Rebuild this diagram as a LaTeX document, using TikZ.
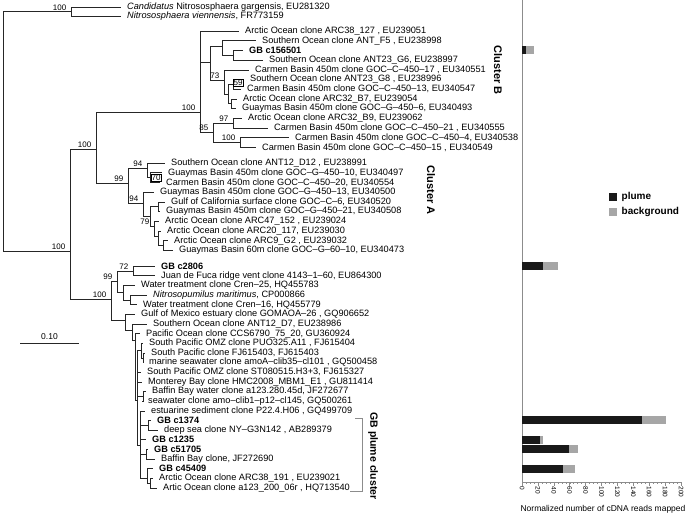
\documentclass[tikz,border=0pt]{standalone}
\usepackage{fontspec}
\setmainfont{Liberation Sans}
\usetikzlibrary{positioning,calc}

\definecolor{plumecol}{gray}{0.1}
\definecolor{bgcol}{gray}{0.65}
\definecolor{axiscol}{gray}{0.55}

\tikzset{
  leaf/.style={anchor=west, inner xsep=6pt, inner ysep=1pt, font=\fontsize{9.2}{10}\selectfont},
  gbleaf/.style={leaf, font=\fontsize{9.2}{10}\selectfont\bfseries},
  br/.style={line width=0.6pt, draw=black!85},
  boot/.style={anchor=south east, inner sep=0.5pt, xshift=-4pt, yshift=0.5pt, font=\fontsize{8}{9}\selectfont},
  bootbox/.style={draw, line width=0.4pt, inner sep=0.6pt, font=\fontsize{8}{9}\selectfont},
  clabel/.style={rotate=-90, font=\fontsize{11}{12}\selectfont\bfseries},
  ticklbl/.style={rotate=-90, anchor=west, inner sep=0.5pt, font=\fontsize{6.5}{7}\selectfont},
}

\begin{document}
\begin{tikzpicture}[x=1pt, y=-1pt]
  \useasboundingbox (0,0) rectangle (685,514);

  % outgroup and root
  \coordinate (root) at (3,130);
  \coordinate (og) at (71,11.5);
  \node[leaf] (cng) at (121,7) {\textit{Candidatus} Nitrososphaera gargensis, EU281320};
  \node[leaf] (nvi) at (121,16) {\textit{Nitrososphaera viennensis}, FR773159};
  \draw[br] (root) |- (og);
  \draw[br] (og) |- (cng.west);
  \draw[br] (og) |- (nvi.west);
  \node[boot] (s1) at (og) {100};

  \coordinate (n70) at (70,251);
  \draw[br] (root) |- (n70);
  \node[boot] (s2) at (n70) {100};
  \coordinate (nAB) at (96,149);
  \draw[br] (n70) |- (nAB);
  \node[boot] (s3) at (nAB) {100};

  % cluster B
  \node[leaf] (b1) at (239,31) {Arctic Ocean clone ARC38\_127 , EU239051};
  \node[leaf] (b2) at (256,40.7) {Southern Ocean clone ANT\_F5 , EU238998};
  \node[gbleaf] (b3) at (243,50.4) {GB c156501};
  \node[leaf] (b4) at (263,60.1) {Southern Ocean clone ANT23\_G6, EU238997};
  \node[leaf] (b5) at (249,69.8) {Carmen Basin 450m clone GOC--C--450--17 , EU340551};
  \node[leaf] (b6) at (244,79.5) {Southern Ocean clone ANT23\_G8 , EU238996};
  \node[leaf] (b7) at (241,89.2) {Carmen Basin 450m clone GOC--C--450--13, EU340547};
  \node[leaf] (b8) at (237,98.9) {Arctic Ocean clone ARC32\_B7, EU239054};
  \node[leaf] (b9) at (236,108.6) {Guaymas Basin 450m clone GOC--G--450--6, EU340493};
  \node[leaf] (b10) at (242,118.3) {Arctic Ocean clone ARC32\_B9, EU239062};
  \node[leaf] (b11) at (268,128) {Carmen Basin 450m clone GOC--C--450--21 , EU340555};
  \node[leaf] (b12) at (289,137.7) {Carmen Basin 450m clone GOC--C--450--4, EU340538};
  \node[leaf] (b13) at (256,147.4) {Carmen Basin 450m clone GOC--C--450--15 , EU340549};

  \coordinate (nB) at (200,112);
  \coordinate (nBa) at (210,62);
  \coordinate (nBf) at (222,46);
  \coordinate (nBg) at (233,55);
  \coordinate (nB73) at (224,80);
  \coordinate (nBi) at (228,94);
  \coordinate (nB59) at (233,84);
  \coordinate (nB7) at (231,103);
  \coordinate (nB85) at (213,132);
  \coordinate (nB97) at (233,123);
  \coordinate (nBc) at (240,142);
  \draw[br] (nAB) |- (nB);
  \draw[br] (nB) |- (b1.west);
  \draw[br] (nB) |- (nBa);
  \draw[br] (nB) |- (nB85);
  \draw[br] (nBa) |- (nBf);
  \draw[br] (nBa) |- (nB73);
  \draw[br] (nBf) |- (b2.west);
  \draw[br] (nBf) |- (nBg);
  \draw[br] (nBg) |- (b3.west);
  \draw[br] (nBg) |- (b4.west);
  \draw[br] (nB73) |- (b5.west);
  \draw[br] (nB73) |- (nBi);
  \draw[br] (nBi) |- (nB59);
  \draw[br] (nBi) |- (nB7);
  \draw[br] (nB59) |- (b6.west);
  \draw[br] (nB59) |- (b7.west);
  \draw[br] (nB7) |- (b8.west);
  \draw[br] (nB7) |- (b9.west);
  \draw[br] (nB85) |- (nB97);
  \draw[br] (nB85) |- (nBc);
  \draw[br] (nB97) |- (b10.west);
  \draw[br] (nB97) |- (b11.west);
  \draw[br] (nBc) |- (b12.west);
  \draw[br] (nBc) |- (b13.west);
  \node[boot] (s4) at (nB) {100};
  \node[boot] (s5) at (nB73) {73};
  \node[bootbox] (s6) at (238,83) {59};
  \node[boot] (s7) at (nB97) {97};
  \node[boot] (s8) at (nB85) {85};
  \node[boot] (s9) at (nBc) {100};
  \node[clabel] (clB) at (498,70) {Cluster B};

  % cluster A
  \node[leaf] (a1) at (165,163) {Southern Ocean clone ANT12\_D12 , EU238991};
  \node[leaf] (a2) at (162,172.7) {Guaymas Basin 450m clone GOC--G--450--10, EU340497};
  \node[leaf] (a3) at (160,182.4) {Carmen Basin 450m clone GOC--C--450--20, EU340554};
  \node[leaf] (a4) at (154,192.1) {Guaymas Basin 450m clone GOC--G--450--13, EU340500};
  \node[leaf] (a5) at (165,201.8) {Gulf of California surface clone GOC--C--6, EU340520};
  \node[leaf] (a6) at (160,211.5) {Guaymas Basin 450m clone GOC--G--450--21, EU340508};
  \node[leaf] (a7) at (159,221.2) {Arctic Ocean clone ARC47\_152 , EU239024};
  \node[leaf] (a8) at (161,230.9) {Arctic Ocean clone ARC20\_117, EU239030};
  \node[leaf] (a9) at (168,240.6) {Arctic Ocean clone ARC9\_G2 , EU239032};
  \node[leaf] (a10) at (173,250.3) {Guaymas Basin 60m clone GOC--G--60--10, EU340473};

  \coordinate (nA) at (128,183);
  \coordinate (nA94u) at (147,168);
  \coordinate (nA70) at (150,177.5);
  \coordinate (nA94l) at (143,203);
  \coordinate (nAx) at (150,216);
  \coordinate (nAgc) at (158,206.6);
  \coordinate (nA79) at (154,226);
  \coordinate (nA8) at (158,236);
  \coordinate (nA9) at (163,245.4);
  \draw[br] (nAB) |- (nA);
  \draw[br] (nA) |- (nA94u);
  \draw[br] (nA) |- (nA94l);
  \draw[br] (nA94u) |- (a1.west);
  \draw[br] (nA94u) |- (nA70);
  \draw[br] (nA70) |- (a2.west);
  \draw[br] (nA70) |- (a3.west);
  \draw[br] (nA94l) |- (a4.west);
  \draw[br] (nA94l) |- (nAx);
  \draw[br] (nAx) |- (nAgc);
  \draw[br] (nAx) |- (nA79);
  \draw[br] (nAgc) |- (a5.west);
  \draw[br] (nAgc) |- (a6.west);
  \draw[br] (nA79) |- (a7.west);
  \draw[br] (nA79) |- (nA8);
  \draw[br] (nA8) |- (a8.west);
  \draw[br] (nA8) |- (nA9);
  \draw[br] (nA9) |- (a9.west);
  \draw[br] (nA9) |- (a10.west);
  \node[boot] (s10) at (nA) {99};
  \node[boot] (s11) at (nA94u) {94};
  \node[bootbox] (s12) at (156,178) {70};
  \node[boot] (s13) at (nA94l) {94};
  \node[boot] (s14) at (nA79) {79};
  \node[clabel] (clA) at (431,190) {Cluster A};

  % GB plume side
  \node[gbleaf] (l1) at (155,266) {GB c2806};
  \node[leaf] (l2) at (155,275.7) {Juan de Fuca ridge vent clone 4143--1--60, EU864300};
  \node[leaf] (l3) at (135,285.3) {Water treatment clone Cren--25, HQ455783};
  \node[leaf] (l4) at (147,295) {\textit{Nitrosopumilus maritimus}, CP000866};
  \node[leaf] (l5) at (137,304.6) {Water treatment clone Cren--16, HQ455779};
  \node[leaf] (l6) at (135,314.3) {Gulf of Mexico estuary clone GOMAOA--26 , GQ906652};
  \node[leaf] (l7) at (147,323.9) {Southern Ocean clone ANT12\_D7, EU238986};
  \node[leaf] (l8) at (140,333.6) {Pacific Ocean clone CCS6790\_75\_20, GU360924};
  \node[leaf] (l9) at (143,343.2) {South Pacific OMZ clone PUO325.A11 , FJ615404};
  \node[leaf] (l10) at (145,352.9) {South Pacific clone FJ615403, FJ615403};
  \node[leaf] (l11) at (143,362.5) {marine seawater clone amoA--clib35--cl101 , GQ500458};
  \node[leaf] (l12) at (141,372.2) {South Pacific OMZ clone ST080515.H3+3, FJ615327};
  \node[leaf] (l13) at (142,381.8) {Monterey Bay clone HMC2008\_MBM1\_E1 , GU811414};
  \node[leaf] (l14) at (146,391.5) {Baffin Bay water clone a123.280.45d, JF272677};
  \node[leaf] (l15) at (142,401.1) {seawater clone amo--clib1--p12--cl145, GQ500261};
  \node[leaf] (l16) at (145,410.8) {estuarine sediment clone P22.4.H06 , GQ499709};
  \node[gbleaf] (l17) at (151,420.4) {GB c1374};
  \node[leaf] (l18) at (158,430.1) {deep sea clone NY--G3N142 , AB289379};
  \node[gbleaf] (l19) at (146,439.7) {GB c1235};
  \node[gbleaf] (l20) at (148,449.4) {GB c51705};
  \node[leaf] (l21) at (155,459) {Baffin Bay clone, JF272690};
  \node[gbleaf] (l22) at (153,468.7) {GB c45409};
  \node[leaf] (l23) at (153,478.3) {Arctic Ocean clone ARC38\_191 , EU239021};
  \node[leaf] (l24) at (157,488) {Artic Ocean clone a123\_200\_06r , HQ713540};

  \coordinate (nP) at (111,299);
  \coordinate (n99) at (117,281);
  \coordinate (n72) at (133,271);
  \coordinate (nW) at (123,292);
  \coordinate (nN) at (130,300);
  \coordinate (nR) at (125,320);
  \coordinate (nD7) at (132,330);
  \coordinate (nPac) at (135,340);
  \coordinate (nC) at (137,400);
  \coordinate (nPUO) at (141,350);
  \coordinate (nFJ) at (143,358);
  \coordinate (nBW) at (143,396);
  \coordinate (nE) at (140,445);
  \coordinate (n1374) at (148,425);
  \coordinate (n51705) at (146,454);
  \coordinate (n45409) at (147,478);
  \coordinate (nARC) at (150,483);
  \draw[br] (n70) |- (nP);
  \draw[br] (nP) |- (n99);
  \draw[br] (nP) |- (nR);
  \draw[br] (n99) |- (n72);
  \draw[br] (n99) |- (nW);
  \draw[br] (n72) |- (l1.west);
  \draw[br] (n72) |- (l2.west);
  \draw[br] (nW) |- (l3.west);
  \draw[br] (nW) |- (nN);
  \draw[br] (nN) |- (l4.west);
  \draw[br] (nN) |- (l5.west);
  \draw[br] (nR) |- (l6.west);
  \draw[br] (nR) |- (nD7);
  \draw[br] (nD7) |- (l7.west);
  \draw[br] (nD7) |- (nPac);
  \draw[br] (nPac) |- (l8.west);
  \draw[br] (nPac) |- (nC);
  \draw[br] (nC) |- (nPUO);
  \draw[br] (nPUO) |- (l9.west);
  \draw[br] (nPUO) |- (nFJ);
  \draw[br] (nFJ) |- (l10.west);
  \draw[br] (nFJ) |- (l11.west);
  \draw[br] (nC) |- (l12.west);
  \draw[br] (nC) |- (l13.west);
  \draw[br] (nC) |- (nBW);
  \draw[br] (nBW) |- (l14.west);
  \draw[br] (nBW) |- (l15.west);
  \draw[br] (nC) |- (nE);
  \draw[br] (nE) |- (l16.west);
  \draw[br] (nE) |- (n1374);
  \draw[br] (n1374) |- (l17.west);
  \draw[br] (n1374) |- (l18.west);
  \draw[br] (nE) |- (l19.west);
  \draw[br] (nE) |- (n51705);
  \draw[br] (n51705) |- (l20.west);
  \draw[br] (n51705) |- (l21.west);
  \draw[br] (nE) |- (n45409);
  \draw[br] (n45409) |- (l22.west);
  \draw[br] (n45409) |- (nARC);
  \draw[br] (nARC) |- (l23.west);
  \draw[br] (nARC) |- (l24.west);
  \node[boot] (s15) at (nP) {100};
  \node[boot] (s16) at (n99) {99};
  \node[boot] (s17) at (n72) {72};

  % GB plume cluster bracket
  \coordinate (gbt) at (355,418);
  \coordinate (gbb) at (350,491);
  \draw[axiscol, line width=0.6pt] (gbt) -- (362,418) -- (362,491) -- (gbb);
  \node[rotate=-90, font=\fontsize{10.5}{11}\selectfont\bfseries] (gbl) at (373,456) {GB plume cluster};

  % scale bar
  \coordinate (sb1) at (20,343);
  \coordinate (sb2) at (79,343);
  \draw[br] (sb1) -- (sb2);
  \node[font=\fontsize{8.5}{9}\selectfont, above] (sbl) at ($(sb1)!0.5!(sb2)$) {0.10};

  % bar chart of mapped reads
  \draw[axiscol, line width=0.8pt] (522,0) -- (522,482) -- (681,482);
  \foreach \v in {0,5,...,200}
    \draw[axiscol, line width=0.4pt] ({522+0.795*\v},482) -- ++(0,2);
  \foreach \v in {0,20,...,200} {
    \draw[axiscol, line width=0.6pt] ({522+0.795*\v},482) -- ++(0,3.5);
    \node[ticklbl] (t\v) at ({522+0.795*\v},486) {\v};
  }
  \foreach \y/\p/\t in {50.4/5/15, 266/26/45, 420.4/151/181, 439.7/23/27, 449.4/59/70, 468.7/52/67} {
    \fill[bgcol] (522,\y-4) rectangle ({522+0.795*\t},\y+4);
    \fill[plumecol] (522,\y-4) rectangle ({522+0.795*\p},\y+4);
  }
  \node[font=\fontsize{8.5}{9}\selectfont] (xlab) at (603,509) {Normalized number of cDNA reads mapped};

  % legend
  \node[fill=plumecol, minimum size=8pt, inner sep=0pt] (kp) at (613,197) {};
  \node[fill=bgcol, minimum size=8pt, inner sep=0pt] (kb) at (613,211.5) {};
  \node[right=1pt of kp, font=\fontsize{10}{11}\selectfont\bfseries] (kpl) {plume};
  \node[right=1pt of kb, font=\fontsize{10}{11}\selectfont\bfseries] (kbl) {background};
\end{tikzpicture}
\end{document}
